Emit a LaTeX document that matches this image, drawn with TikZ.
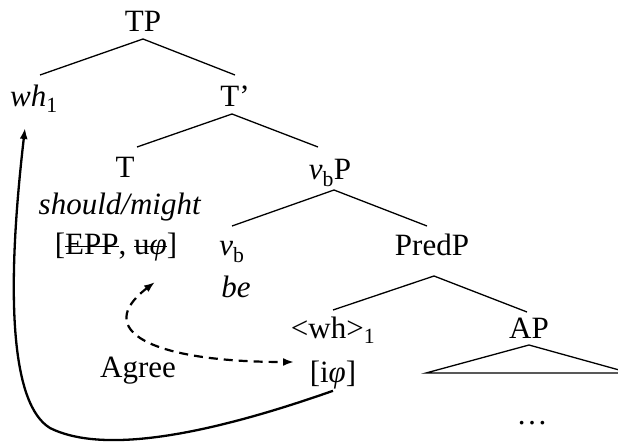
\documentclass[tikz,border=0pt]{standalone}
\usepackage{fontspec}
\setmainfont{Liberation Serif}
\usetikzlibrary{arrows.meta}

\newcommand{\strk}[1]{\begingroup\setbox0\hbox{#1}%
  \rlap{\rule[0.26em]{\wd0}{1.4pt}}\box0\endgroup}

\tikzset{
  lbl/.style={anchor=base, inner sep=0pt, font=\fontsize{31}{36}\selectfont},
  branch/.style={line width=1.3pt},
  move/.style={line width=2.3pt, -{Latex[length=11pt,width=8pt]}},
  agreearr/.style={line width=2.2pt, dash pattern=on 9pt off 6pt,
    {Latex[length=11pt,width=8pt]}-{Latex[length=11pt,width=8pt]}},
}

\begin{document}
\begin{tikzpicture}[x=1pt, y=-1pt]
    \useasboundingbox (0,0) rectangle (618,443);

    % labels
    \node[lbl] (tp) at (143,32) {TP};
    \node[lbl] (wh) at (34,107) {\textit{wh}\textsubscript{1}};
    \node[lbl] (tbar) at (235,107) {T’};
    \node[lbl] (t) at (125,178) {T};
    \node[lbl] (tmod) at (120,215) {\textit{should/might}};
    \node[lbl] (tfeat) at (116,255) {[\strk{EPP}, \strk{u\textit{φ}}]};
    \node[lbl] (vbp) at (330,180) {\textit{v}\textsubscript{b}P};
    \node[lbl] (vb) at (232,256) {\textit{v}\textsubscript{b}};
    \node[lbl] (be) at (236,298) {\textit{be}};
    \node[lbl] (predp) at (432,256) {PredP};
    \node[lbl] (whtr) at (333,338) {<wh>\textsubscript{1}};
    \node[lbl] (ap) at (529,338) {AP};
    \node[lbl] (ifeat) at (333,382) {[i\textit{φ}]};
    \node[lbl] (agree) at (138,377) {Agree};
    \node[lbl] (dots) at (532,424) {…};

    % tree
    \draw[branch] ([yshift=-7pt]tp.base) -- ([xshift=6pt,yshift=32pt]wh.base);
    \draw[branch] ([yshift=-7pt]tp.base) -- ([yshift=32pt]tbar.base);
    \draw[branch] ([xshift=-3pt,yshift=-7pt]tbar.base) -- ([xshift=12pt,yshift=31pt]t.base);
    \draw[branch] ([xshift=-3pt,yshift=-7pt]tbar.base) -- ([xshift=-12pt,yshift=33pt]vbp.base);
    \draw[branch] ([xshift=4pt,yshift=-10pt]vbp.base) -- ([yshift=30pt]vb.base);
    \draw[branch] ([xshift=4pt,yshift=-10pt]vbp.base) -- ([xshift=-5pt,yshift=30pt]predp.base);
    \draw[branch] ([xshift=2pt,yshift=-20pt]predp.base) -- ([yshift=28pt]whtr.base);
    \draw[branch] ([xshift=2pt,yshift=-20pt]predp.base) -- ([xshift=-2pt,yshift=26pt]ap.base);
    \draw[branch] ([yshift=-7pt]ap.base) -- (426,373) -- (630,373) -- cycle;

    % arrows
    \coordinate (agreetop) at (155,282);
    \coordinate (agreeend) at (294,362);
    \coordinate (whtip) at (25,128);
    \draw[agreearr] (agreetop) .. controls (92,330) and (150,362) .. (agreeend);
    \draw[move] ([yshift=-2pt]ifeat.south) .. controls (230,427) and (110,458) .. (50,428)
        .. controls (12,405) and (5,300) .. (whtip);
\end{tikzpicture}
\end{document}
